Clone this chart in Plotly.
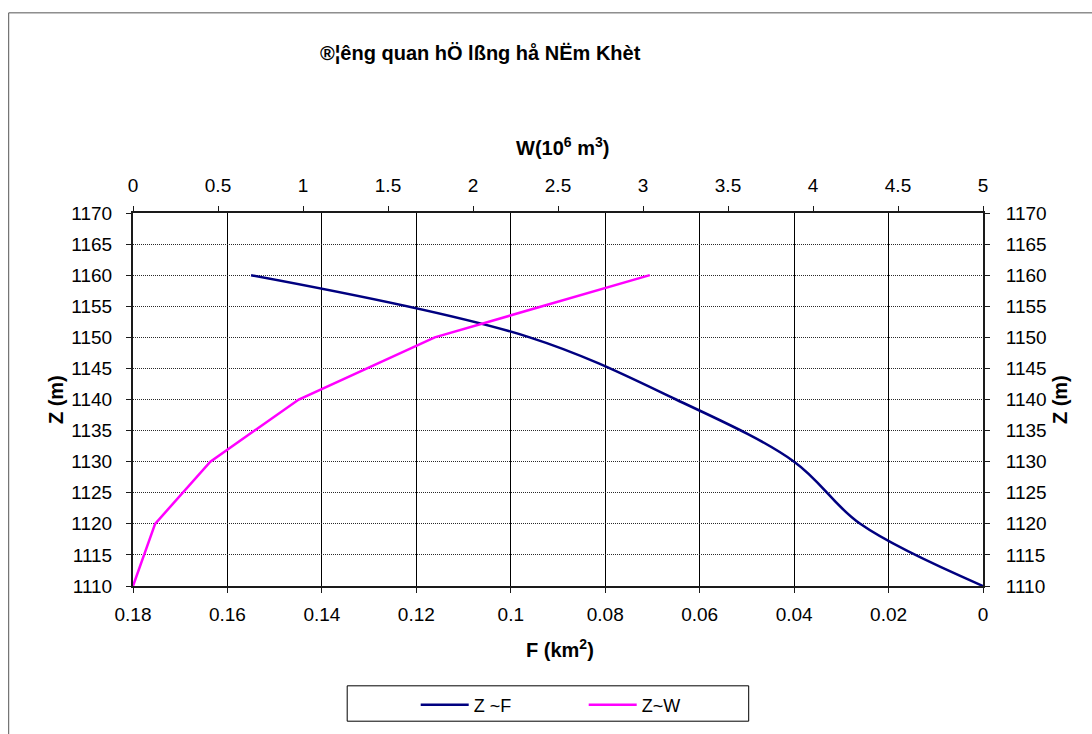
import plotly.graph_objects as go

# ---- data ----
Z_F = [1110, 1120, 1130, 1140, 1150, 1160]
F_km2 = [0.0, 0.026, 0.040, 0.065, 0.096, 0.155]

Z_W = [1110, 1120, 1130, 1140, 1150, 1160]
W_mcm = [0.0, 0.13, 0.455, 0.975, 1.775, 3.04]

F_ticks = [0.18, 0.16, 0.14, 0.12, 0.1, 0.08, 0.06, 0.04, 0.02, 0]
F_ticktext = ["0.18", "0.16", "0.14", "0.12", "0.1", "0.08", "0.06", "0.04", "0.02", "0"]
W_ticks = [0, 0.5, 1, 1.5, 2, 2.5, 3, 3.5, 4, 4.5, 5]
W_ticktext = ["0", "0.5", "1", "1.5", "2", "2.5", "3", "3.5", "4", "4.5", "5"]
Z_ticks = [1110, 1115, 1120, 1125, 1130, 1135, 1140, 1145, 1150, 1155, 1160, 1165, 1170]

TITLE = "®¦êng quan hÖ lßng hå NËm Khèt"

W, H = 1092, 734
L, R, T, B = 133.3, 983.3, 212.9, 587.3


def px(x):
    return (x - L) / (R - L)


def py(y):
    return (B - y) / (B - T)


FONT = "Liberation Sans, Arial, sans-serif"
TICKFONT = dict(family=FONT, size=19, color="black")

fig = go.Figure()
fig.add_trace(go.Scatter(
    x=F_km2, y=Z_F, mode="lines", name="Z ~F",
    line=dict(color="#000080", width=2.5, shape="spline", smoothing=1.0),
    xaxis="x", yaxis="y"))
fig.add_trace(go.Scatter(
    x=W_mcm, y=Z_W, mode="lines", name="Z~W",
    line=dict(color="#FF00FF", width=2.5),
    xaxis="x2", yaxis="y"))
# invisible trace to anchor right axis
fig.add_trace(go.Scatter(x=[None], y=[None], xaxis="x", yaxis="y2",
                         showlegend=False, hoverinfo="skip"))

axis_common = dict(showline=True, linecolor="#1a1a1a", linewidth=2,
                   ticks="outside", ticklen=5, tickcolor="#1a1a1a",
                   tickfont=TICKFONT, zeroline=False)

fig.update_layout(
    width=W, height=H,
    margin=dict(l=L, r=W - R, t=T, b=H - B, pad=0),
    paper_bgcolor="white", plot_bgcolor="white",
    showlegend=True,
    xaxis=dict(range=[0.18, 0], tickvals=F_ticks, ticktext=F_ticktext,
               showgrid=True, gridcolor="black", gridwidth=1,
               ticklabelstandoff=5, **axis_common),
    xaxis2=dict(range=[0, 5], tickvals=W_ticks, ticktext=W_ticktext,
                overlaying="x", side="top", showgrid=False,
                anchor="y", ticklabelstandoff=6, **axis_common),
    yaxis=dict(range=[1110, 1170], tickvals=Z_ticks, showgrid=True,
               gridcolor="#2a2a2a", gridwidth=1, griddash="1px,1px",
               ticklabelstandoff=10, **axis_common),
    yaxis2=dict(range=[1110, 1170], tickvals=Z_ticks, overlaying="y",
                side="right", showgrid=False, anchor="x",
                ticklabelstandoff=12, **axis_common),
    legend=dict(orientation="h", x=px(416), y=py(705.5), xanchor="left",
                yanchor="middle", font=dict(family=FONT, size=18, color="black"),
                entrywidth=105, entrywidthmode="pixels",
                bgcolor="rgba(0,0,0,0)", borderwidth=0, itemwidth=48),
    font=dict(family=FONT, color="black"),
)

# outer chart frame
fig.add_shape(type="rect", xref="paper", yref="paper",
              x0=px(9), x1=px(1110), y0=py(760), y1=py(12),
              line=dict(color="#555555", width=1), layer="below")
# legend frame
fig.add_shape(type="rect", xref="paper", yref="paper",
              x0=px(347.5), x1=px(749), y0=py(723), y1=py(687.5),
              line=dict(color="black", width=1), layer="below")

ann_font = dict(family=FONT, size=20, color="black")
fig.add_annotation(text="<b>" + TITLE + "</b>", xref="paper", yref="paper",
                   x=px(481), y=py(52), showarrow=False, font=ann_font,
                   xanchor="center", yanchor="middle")
fig.add_annotation(text="<b>W(10<sup>6</sup> m<sup>3</sup>)</b>", xref="paper", yref="paper",
                   x=px(563), y=py(146), showarrow=False, font=ann_font,
                   xanchor="center", yanchor="middle")
fig.add_annotation(text="<b>F (km<sup>2</sup>)</b>", xref="paper", yref="paper",
                   x=px(560), y=py(650), showarrow=False, font=ann_font,
                   xanchor="center", yanchor="middle")
fig.add_annotation(text="<b>Z (m)</b>", xref="paper", yref="paper",
                   x=px(57), y=py(400), showarrow=False, font=ann_font,
                   textangle=-90, xanchor="center", yanchor="middle")
fig.add_annotation(text="<b>Z (m)</b>", xref="paper", yref="paper",
                   x=px(1061), y=py(400), showarrow=False, font=ann_font,
                   textangle=-90, xanchor="center", yanchor="middle")

fig.write_html("out.html")
